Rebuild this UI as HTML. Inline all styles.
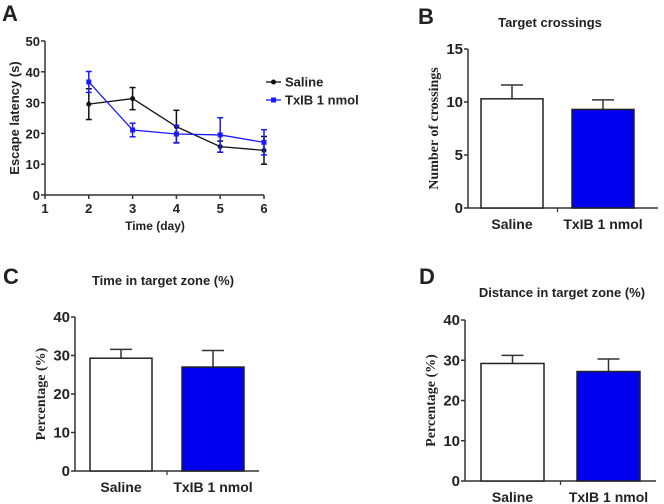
<!DOCTYPE html>
<html><head><meta charset="utf-8"><style>
html,body{margin:0;padding:0;background:#fff}
svg{display:block}
text{font-family:"Liberation Sans",Arial,sans-serif;font-weight:bold;fill:#222}
.ser{font-family:"Liberation Serif",serif}
</style></head><body>
<svg id="s" width="664" height="504">
<text x="2" y="21" font-size="22">A</text>
<text x="418" y="24" font-size="22">B</text>
<text x="3" y="284" font-size="22">C</text>
<text x="419" y="284" font-size="22">D</text>
</svg>
<script>
const days=[1,2,3,4,5,6];
const salineDays=[2,3,4,5,6];
const salineMean=[29.5,31.3,22.2,15.7,14.5];
const salineErr=[5,3.6,5.3,1.8,4.5];
const txibMean=[36.7,21.1,19.8,19.5,17.1];
const txibErr=[3.4,2.2,2.8,5.6,4.1];
const latTicks=[0,10,20,30,40,50];
const barCats=["Saline","TxIB 1 nmol"];
const crossMean=[10.3,9.3];const crossErr=[1.3,0.9];const crossTicks=[0,5,10,15];
const timeMean=[29.3,27.0];const timeErr=[2.3,4.3];const pctTicks=[0,10,20,30,40];
const distMean=[29.2,27.2];const distErr=[2.0,3.1];

const svg=document.getElementById('s');const NS="http://www.w3.org/2000/svg";
function el(t,a,txt){const e=document.createElementNS(NS,t);for(const k in a)e.setAttribute(k,a[k]);if(txt!==undefined)e.textContent=txt;svg.appendChild(e);return e;}

// Panel A
(function(){
const x=d=>45+(d-1)*43.8, y=v=>195-v*3.08;
let e=el('line',{x1:45,y1:y(50),x2:45,y2:195,stroke:'#333','stroke-width':1.5});

e=el('line',{x1:45,y1:195,x2:x(6),y2:195,stroke:'#333','stroke-width':1.5});

latTicks.forEach(t=>{el('line',{x1:41,x2:45,y1:y(t),y2:y(t),stroke:'#333','stroke-width':1.5});
e=el('text',{x:40,y:y(t)+5,'font-size':13,'text-anchor':'end'},t);
});
days.forEach(d=>{el('line',{x1:x(d),x2:x(d),y1:195,y2:199,stroke:'#333','stroke-width':1.5});
e=el('text',{x:x(d),y:213,'font-size':13,'text-anchor':'middle'},d);
});
e=el('text',{x:155,y:230,'font-size':12,'text-anchor':'middle'},'Time (day)');

e=el('text',{x:0,y:0,'font-size':13,'text-anchor':'middle',transform:'translate(19,118) rotate(-90)'},'Escape latency (s)');

function series(m,er,col,name,sq){
 const pts=salineDays.map((d,i)=>x(d)+','+y(m[i])).join(' ');
 e=el('polyline',{points:pts,fill:'none',stroke:col,'stroke-width':1.3});
 
 salineDays.forEach((d,i)=>{const cx=x(d);
  el('line',{x1:cx,x2:cx,y1:y(m[i]-er[i]),y2:y(m[i]+er[i]),stroke:col,'stroke-width':1.5});
  el('line',{x1:cx-3,x2:cx+3,y1:y(m[i]-er[i]),y2:y(m[i]-er[i]),stroke:col,'stroke-width':1.5});
  el('line',{x1:cx-3,x2:cx+3,y1:y(m[i]+er[i]),y2:y(m[i]+er[i]),stroke:col,'stroke-width':1.5});
  e=sq?el('rect',{x:cx-2.5,y:y(m[i])-2.5,width:5,height:5,fill:col}):el('circle',{cx:cx,cy:y(m[i]),r:2.5,fill:col});
  });
}
series(salineMean,salineErr,'#111','saline',false);
series(txibMean,txibErr,'#1a1aff','txib',true);
el('line',{x1:266,x2:281,y1:82,y2:82,stroke:'#111','stroke-width':1.3});el('circle',{cx:273.5,cy:82,r:2.5,fill:'#111'});
e=el('text',{x:285,y:86.5,'font-size':13},'Saline');
el('line',{x1:266,x2:281,y1:100,y2:100,stroke:'#1a1aff','stroke-width':1.3});el('rect',{x:271,y:97.5,width:5,height:5,fill:'#1a1aff'});
e=el('text',{x:285,y:104.5,'font-size':13},'TxIB 1 nmol');
})();

function bars(p,id,title,ylab,mean,err,ticks){
 const max=ticks[ticks.length-1];const y=v=>p.y0-(p.y0-p.ytop)*v/max;
 let e=el('text',{x:p.tx,y:p.ty,'font-size':13,'text-anchor':'middle'},title);
 
 e=el('line',{x1:p.ax,x2:p.ax,y1:p.ytop,y2:p.y0,stroke:'#333','stroke-width':1.5});
 
 e=el('line',{x1:p.ax,x2:p.aend,y1:p.y0,y2:p.y0,stroke:'#333','stroke-width':1.5});
 
 const mid=(p.bx[0]+p.bw+p.bx[1])/2;el('line',{x1:mid,x2:mid,y1:p.y0,y2:p.y0+4,stroke:'#333','stroke-width':1.2});
 ticks.forEach(t=>{el('line',{x1:p.ax-4,x2:p.ax,y1:y(t),y2:y(t),stroke:'#333','stroke-width':1.5});
  e=el('text',{x:p.ax-5,y:y(t)+5,'font-size':15,'text-anchor':'end'},t);
  });
 e=el('text',{x:0,y:0,'font-size':14,'text-anchor':'middle','class':'ser',transform:`translate(${p.ax-30},${(p.y0+p.ytop)/2}) rotate(-90)`},ylab);
 
 barCats.forEach((c,i)=>{const bx=p.bx[i],cx=bx+p.bw/2;
  el('line',{x1:cx,x2:cx,y1:y(mean[i]),y2:y(mean[i]+err[i]),stroke:'#333','stroke-width':1.5});
  el('line',{x1:cx-11,x2:cx+11,y1:y(mean[i]+err[i]),y2:y(mean[i]+err[i]),stroke:'#333','stroke-width':1.5});
  e=el('rect',{x:bx,y:y(mean[i]),width:p.bw,height:p.y0-y(mean[i]),fill:i?'#0000ee':'#fff',stroke:'#222','stroke-width':1.5});
  
  e=el('text',{x:cx,y:p.y0+21,'font-size':14,'text-anchor':'middle'},c);
  });
}
bars({ax:468,aend:658,y0:208,ytop:49,bx:[481,572],bw:62,tx:550,ty:27},'b','Target crossings','Number of crossings',crossMean,crossErr,crossTicks);
bars({ax:75,aend:259,y0:471,ytop:317,bx:[90,182],bw:62,tx:163,ty:285},'c','Time in target zone (%)','Percentage (%)',timeMean,timeErr,pctTicks);
bars({ax:465,aend:656,y0:481,ytop:320,bx:[481,577],bw:63,tx:562,ty:297},'d','Distance in target zone (%)','Percentage (%)',distMean,distErr,pctTicks);
</script>
</body></html>
